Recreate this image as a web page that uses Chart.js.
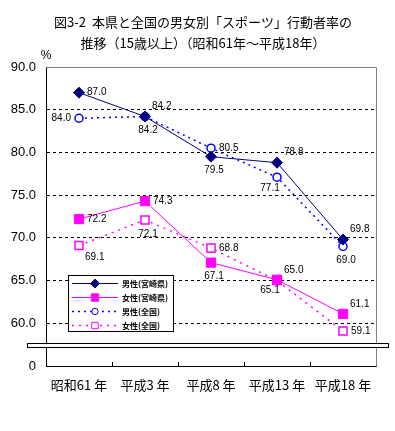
<!DOCTYPE html>
<html lang="ja">
<head>
<meta charset="utf-8">
<title>図3-2 男女別「スポーツ」行動者率の推移</title>
<script src="https://cdn.jsdelivr.net/npm/chart.js@4.4.0/dist/chart.umd.min.js"></script>
<style>
    html, body { margin: 0; padding: 0; background: #fff; }
    #grafico { display: block; }
</style>
</head>
<body>
<canvas id="grafico" width="395" height="431"></canvas>
<script>
// dados
const categorias = ['昭和61 年', '平成3 年', '平成8 年', '平成13 年', '平成18 年'];
const masculinoMiyazaki = [87.0, 84.2, 79.5, 78.8, 69.8];
const femininoMiyazaki = [72.2, 74.3, 67.1, 65.1, 61.1];
const masculinoNacional = [84.0, 84.2, 80.5, 77.1, 69.0];
const femininoNacional = [69.1, 72.1, 68.8, 65.0, 59.1];

// eixo y (quebrado: 0 embaixo, depois 60 a 90)
const valoresEixoY = [55, 60, 65, 70, 75, 80, 85, 90];
const rotulosEixoY = ['0', '60.0', '65.0', '70.0', '75.0', '80.0', '85.0', '90.0'];

const nomesSeries = ['男性(宮崎県)', '女性(宮崎県)', '男性(全国)', '女性(全国)'];

// posição de cada rótulo de valor (r, l, b, tr, bl, br)
const posicoesRotulos = [
    ['r', 'b', 'b', 'tr', 'tr'],
    ['r', 'r', 'b', 'bl', 'tr'],
    ['l', 'tr', 'r', 'bl', 'b'],
    ['br', 'b', 'r', 'tr', 'r']
];

const deslocamentos = {
    r: [8, 0, 'left'],
    l: [-8, 0, 'right'],
    b: [3, 14, 'center'],
    tr: [7, -10, 'left'],
    bl: [-7, 11, 'center'],
    br: [6, 12, 'left']
};

const fonteJP = '"Noto Sans CJK JP", "Noto Sans", sans-serif';
const fonteNum = '"Liberation Sans", Arial, sans-serif';

// titulo, moldura, quebra do eixo, rotulos e legenda
const pluginDesenho = {
    id: 'desenhoExtra',
    afterDraw(chart) {
        const ctx = chart.ctx;
        const area = chart.chartArea;
        const escalaX = chart.scales.x;
        const escalaY = chart.scales.y;

        ctx.save();

        // titulo
        ctx.fillStyle = '#000';
        ctx.font = '13px ' + fonteJP;
        ctx.textAlign = 'center';
        ctx.textBaseline = 'middle';
        ctx.fillText('図3-2  本県と全国の男女別「スポーツ」行動者率の', 203, 22);
        ctx.fillText('推移（15歳以上）（昭和61年～平成18年）', 203, 43);

        ctx.font = '12px ' + fonteNum;
        ctx.fillText('%', 46, 56);

        // moldura cinza em cima e à direita
        ctx.strokeStyle = '#808080';
        ctx.lineWidth = 1;
        ctx.beginPath();
        ctx.moveTo(Math.round(area.left) + 0.5, Math.round(area.top) + 0.5);
        ctx.lineTo(Math.round(area.right) + 0.5, Math.round(area.top) + 0.5);
        ctx.lineTo(Math.round(area.right) + 0.5, Math.round(area.bottom) + 0.5);
        ctx.stroke();

        // pequenos tracinhos do eixo x (para dentro)
        ctx.strokeStyle = '#000';
        ctx.beginPath();
        for (let i = 0; i < categorias.length - 1; i++) {
            const xm = Math.round((escalaX.getPixelForTick(i) + escalaX.getPixelForTick(i + 1)) / 2) + 0.5;
            ctx.moveTo(xm, area.bottom);
            ctx.lineTo(xm, area.bottom - 4);
        }
        ctx.stroke();

        // faixa de quebra do eixo
        const yQ1 = Math.round(escalaY.getPixelForValue(57.7)) + 0.5;
        const yQ2 = Math.round(escalaY.getPixelForValue(57.2)) + 0.5;
        ctx.fillStyle = '#fff';
        ctx.fillRect(27, yQ1, 361, yQ2 - yQ1);
        ctx.strokeStyle = '#000';
        ctx.strokeRect(27.5, yQ1, 361, yQ2 - yQ1);

        // rotulos de valor
        ctx.font = '10px ' + fonteNum;
        ctx.fillStyle = '#000';
        ctx.textBaseline = 'middle';
        chart.data.datasets.forEach((ds, d) => {
            const meta = chart.getDatasetMeta(d);
            meta.data.forEach((pt, i) => {
                const desl = deslocamentos[posicoesRotulos[d][i]];
                ctx.textAlign = desl[2];
                ctx.fillText(ds.data[i].toFixed(1), pt.x + desl[0], pt.y + desl[1]);
            });
        });

        // legenda dentro do grafico
        const lx = area.left + 22;
        const ly = escalaY.getPixelForValue(65.6);
        const lw = 105;
        const lh = 56;
        ctx.fillStyle = '#fff';
        ctx.fillRect(lx, ly, lw, lh);
        ctx.strokeStyle = '#000';
        ctx.lineWidth = 1;
        ctx.strokeRect(Math.round(lx) + 0.5, Math.round(ly) + 0.5, lw, lh);

        chart.data.datasets.forEach((ds, d) => {
            const yy = Math.round(ly + 8 + d * 14) + 0.5;
            ctx.strokeStyle = ds.borderColor;
            ctx.lineWidth = ds.borderWidth;
            ctx.setLineDash(ds.borderDash || []);
            ctx.beginPath();
            ctx.moveTo(lx + 4, yy);
            ctx.lineTo(lx + 50, yy);
            ctx.stroke();
            ctx.setLineDash([]);
            desenharMarcador(ctx, ds, lx + 27, yy, 0.8);

            ctx.fillStyle = '#000';
            ctx.font = 'bold 8px ' + fonteJP;
            ctx.textAlign = 'left';
            ctx.fillText(nomesSeries[d], lx + 54, yy);
        });

        ctx.restore();
    }
};

function desenharMarcador(ctx, ds, x, y, escala) {
    const r = ds.pointRadius * escala;
    ctx.fillStyle = ds.pointBackgroundColor;
    ctx.strokeStyle = ds.pointBorderColor;
    ctx.lineWidth = 1;
    ctx.beginPath();
    if (ds.pointStyle === 'rectRot') {
        ctx.moveTo(x, y - r);
        ctx.lineTo(x + r, y);
        ctx.lineTo(x, y + r);
        ctx.lineTo(x - r, y);
        ctx.closePath();
    } else if (ds.pointStyle === 'rect') {
        const s = r * Math.SQRT1_2;
        ctx.rect(x - s, y - s, 2 * s, 2 * s);
    } else {
        ctx.arc(x, y, r, 0, Math.PI * 2);
    }
    ctx.fill();
    ctx.stroke();
}

const config = {
    type: 'line',
    data: {
        labels: categorias,
        datasets: [
            {
                label: nomesSeries[0],
                data: masculinoMiyazaki,
                borderColor: '#000080',
                borderWidth: 1,
                pointStyle: 'rectRot',
                pointRadius: 5.5,
                pointBackgroundColor: '#000080',
                pointBorderColor: '#000080',
                order: 1
            },
            {
                label: nomesSeries[1],
                data: femininoMiyazaki,
                borderColor: '#ff00ff',
                borderWidth: 1,
                pointStyle: 'rect',
                pointRadius: 6.5,
                pointBackgroundColor: '#ff00ff',
                pointBorderColor: '#ff00ff',
                order: 2
            },
            {
                label: nomesSeries[2],
                data: masculinoNacional,
                borderColor: '#0000ff',
                borderWidth: 1.5,
                borderDash: [2, 4],
                pointStyle: 'circle',
                pointRadius: 4,
                pointBackgroundColor: '#ffffff',
                pointBorderColor: '#0000ff',
                order: 3
            },
            {
                label: nomesSeries[3],
                data: femininoNacional,
                borderColor: '#ff00ff',
                borderWidth: 1.5,
                borderDash: [2, 5],
                pointStyle: 'rect',
                pointRadius: 5.7,
                pointBackgroundColor: '#ffffff',
                pointBorderColor: '#ff00ff',
                order: 4
            }
        ]
    },
    options: {
        responsive: false,
        animation: false,
        devicePixelRatio: 1,
        layout: {
            autoPadding: false,
            padding: { top: 67, right: 19, bottom: 35, left: 0 }
        },
        elements: {
            line: { tension: 0 },
            point: { borderWidth: 1, hoverRadius: 5 }
        },
        plugins: {
            legend: { display: false },
            title: { display: false },
            tooltip: { enabled: false }
        },
        scales: {
            x: {
                offset: true,
                grid: { display: false },
                border: { display: true, color: '#000', width: 1 },
                ticks: {
                    color: '#000',
                    padding: 3,
                    font: { family: fonteJP, size: 13 },
                    maxRotation: 0,
                    autoSkip: false
                },
                afterFit(escala) { escala.height = 30; }
            },
            y: {
                min: 55,
                max: 90,
                afterBuildTicks(escala) {
                    escala.ticks = valoresEixoY.map(v => ({ value: v }));
                },
                grid: {
                    drawTicks: false,
                    color(ctx) {
                        const v = ctx.tick ? ctx.tick.value : null;
                        return (v >= 60 && v <= 85) ? '#000' : 'rgba(0,0,0,0)';
                    },
                    lineWidth: 1
                },
                border: { display: true, color: '#000', width: 1, dash: [3, 3] },
                ticks: {
                    color: '#000',
                    padding: 10,
                    font: { family: fonteNum, size: 13 },
                    callback(valor) {
                        const idx = valoresEixoY.indexOf(valor);
                        return idx >= 0 ? rotulosEixoY[idx] : '';
                    }
                },
                afterFit(escala) { escala.width = 46; }
            }
        }
    },
    plugins: [pluginDesenho]
};

let meuGrafico = new Chart(document.getElementById('grafico'), config);
</script>
</body>
</html>
